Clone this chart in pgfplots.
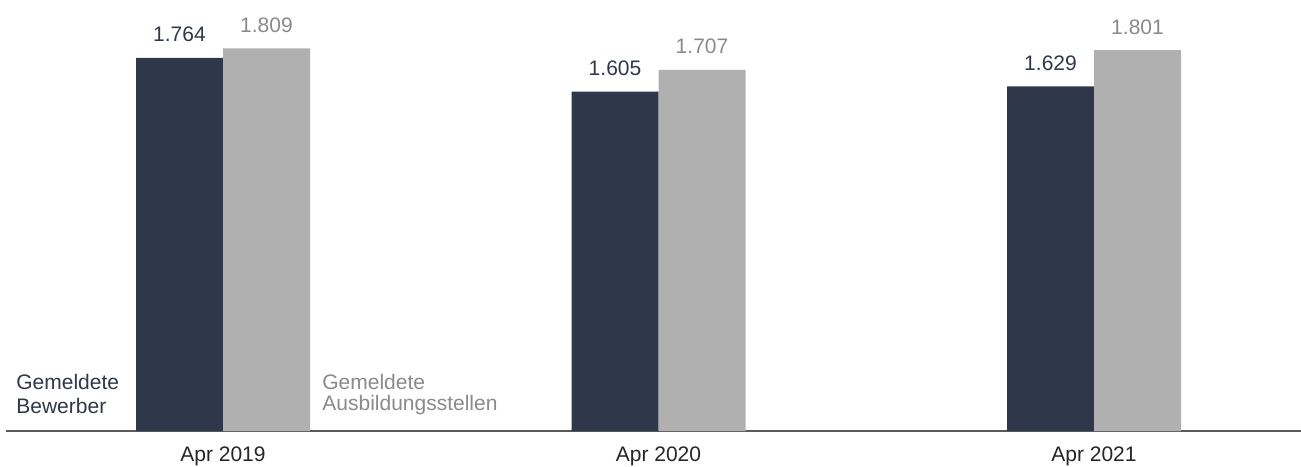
\documentclass[border=0pt]{standalone}
\usepackage{pgfplots}
\pgfplotsset{compat=1.18}
\usepackage{fontspec}
\setmainfont{Liberation Sans}
\definecolor{darkbar}{HTML}{2F374B}
\definecolor{greybar}{HTML}{B0B0B0}
\definecolor{greytext}{HTML}{8A8A8A}
\definecolor{axisline}{HTML}{5A5A5A}
\begin{document}
\begin{tikzpicture}
\begin{axis}[
    scale only axis,
    width=647.5pt, height=215.5pt,
    ybar=0pt, bar width=43.5pt,
    xmin=-0.4983, xmax=2.4753,
    ymin=0, ymax=2038,
    axis x line=bottom, axis y line=none,
    x axis line style={axisline, line width=0.7pt, -},
    xtick={0,1,2},
    xticklabels={Apr 2019, Apr 2020, Apr 2021},
    major tick length=0pt,
    xticklabel style={anchor=base, yshift=-15pt, font=\fontsize{10.5}{12}\selectfont, text=black!85},
    nodes near coords,
    every node near coord/.append style={anchor=base, yshift=8pt, font=\fontsize{10.5}{12}\selectfont},
    /pgf/number format/.cd, 1000 sep={.}, assume math mode=true,
]
\addplot[fill=darkbar, draw=none, every node near coord/.append style={text=darkbar}]
    coordinates {(0,1764) (1,1605) (2,1629)};
\addplot[fill=greybar, draw=none, every node near coord/.append style={text=greytext}]
    coordinates {(0,1809) (1,1707) (2,1801)};
\end{axis}
\begin{scope}[every node/.style={inner sep=0pt, anchor=base west, font=\fontsize{10.5}{12}\selectfont}]
\node[text=darkbar] at (5pt,20.5pt) {Gemeldete};
\node[text=darkbar] at (5pt,9pt) {Bewerber};
\node[text=greytext] at (158pt,20.5pt) {Gemeldete};
\node[text=greytext] at (158pt,10pt) {Ausbildungsstellen};
\end{scope}
\pgfresetboundingbox
\path[use as bounding box] (-3pt,-17.5pt) rectangle (647.5pt,215.5pt);
\end{tikzpicture}
\end{document}
